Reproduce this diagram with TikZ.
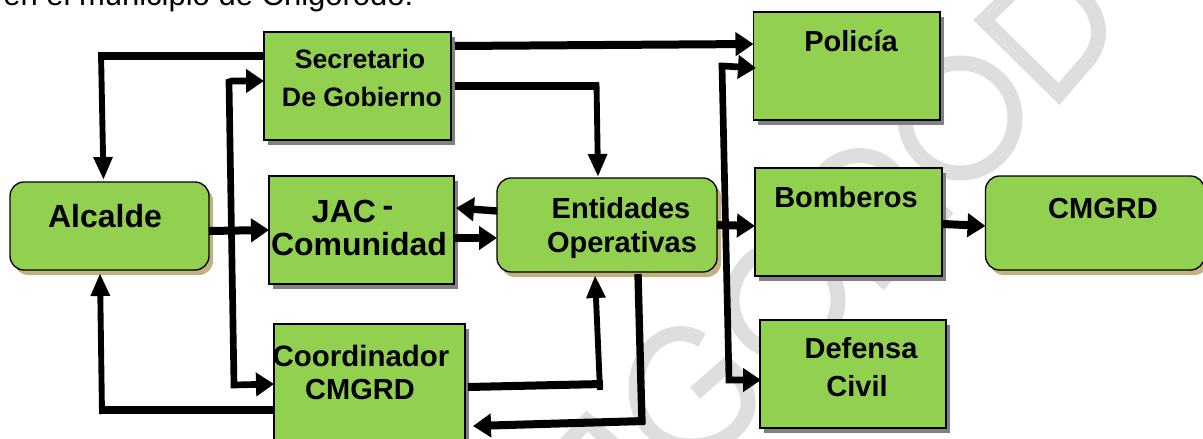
\documentclass[tikz,border=0pt]{standalone}
\usepackage{fontspec}
\setmainfont{Liberation Sans}
\usetikzlibrary{arrows.meta,shadows,calc}
\definecolor{boxgreen}{HTML}{92D050}
\definecolor{shadowgray}{HTML}{808080}
\definecolor{shadowtan}{HTML}{C4B183}
\definecolor{wmark}{HTML}{DEDEDE}
\tikzset{
  x=0.75pt,y=-0.75pt,
  dims/.style 2 args={minimum width=#1*0.75pt,minimum height=#2*0.75pt},
  plainbox/.style={draw=black,line width=1pt,fill=boxgreen,inner sep=0pt,outer sep=0pt,
    drop shadow={shadow xshift=3pt,shadow yshift=-3.75pt,fill=shadowgray,opacity=1}},
  roundbox/.style={draw=black,line width=1pt,fill=boxgreen,inner sep=0pt,outer sep=0pt,rounded corners=10.5pt,
    drop shadow={shadow xshift=3pt,shadow yshift=-3.75pt,fill=shadowtan,opacity=1}},
  lbl/.style={anchor=base,inner sep=0pt,font=\fontsize{#1}{#1}\selectfont\bfseries},
  lbl/.default=21.75,
  watermark/.style={draw=wmark,line width=11.25pt,line join=miter},
  wide/.style={draw=black,line width=6pt},
  mid/.style={draw=black,line width=4.4pt},
  spine/.style={draw=black,line width=5pt},
  hhead/.style={-{Triangle[width=17.25pt,length=13.5pt]}},
  vhead/.style={-{Triangle[width=13.5pt,length=17.25pt]}},
  bothhead/.style={{Triangle[width=17.25pt,length=13.5pt]}-{Triangle[width=17.25pt,length=13.5pt]}},
}
\begin{document}
\begin{tikzpicture}
\useasboundingbox (0,0) rectangle (1203,439);
\clip (0,0) rectangle (1203,439);
% watermark
\draw[watermark] (1015,-10) -- (984,20) -- (1059,94) -- (1083,66) .. controls (1101,48) and (1108,20) .. (1078,-8);
\draw[watermark] (960,118) circle [radius=55];
\draw[watermark] (818,180) .. controls (835,150) and (880,145) .. (900,180);
\draw[watermark] (878,285) -- (948,208);
\draw[watermark] (785,300) circle [radius=53];
\draw[watermark] (702,340) .. controls (668,320) and (636,350) .. (636,388) .. controls (636,425) and (660,446) .. (690,446) .. controls (730,446) and (750,420) .. (748,400) .. controls (747,385) and (738,375) .. (727,365) -- (695,393);
\draw[watermark] (565,445) -- (587,421) -- (625,455);
% top text
\node[anchor=base west,inner sep=0pt,font=\fontsize{23.25}{23.25}\selectfont] (intro) at (3,6) {en el municipio de Chigorodó:};
% boxes
\node[plainbox,dims={187}{108}] (sec) at (357.5,86) {};
\node[plainbox,dims={185}{108}] (jac) at (361.5,230) {};
\node[plainbox,dims={191}{146}] (coo) at (369.5,397) {};
\node[roundbox,dims={199}{88}] (alc) at (109.5,226) {};
\node[roundbox,dims={220}{94}] (ent) at (607,225) {};
\node[plainbox,dims={186.5}{108}] (pol) at (846.75,66) {};
\node[plainbox,dims={187}{108}] (bom) at (848.5,222) {};
\node[plainbox,dims={186}{108}] (def) at (853,374) {};
\node[roundbox,dims={219}{94}] (cmg) at (1095,223) {};
% labels
\node[lbl=24] (talc) at (105,227) {Alcalde};
\node[lbl=20] (tsec1) at (360,68) {Secretario};
\node[lbl=20] (tsec2) at (362,106) {De Gobierno};
\node[lbl=24] (tjac1) at (344,222) {JAC};
\node[lbl=24] (tjac2) at (388,216) {-};
\node[lbl=24] (tjac3) at (359,255) {Comunidad};
\node[lbl=22.1] (tcoo1) at (361,366) {Coordinador};
\node[lbl] (tcoo2) at (360,399) {CMGRD};
\node[lbl] (tent1) at (621,218) {Entidades};
\node[lbl] (tent2) at (622,252) {Operativas};
\node[lbl] (tpol) at (851,51) {Policía};
\node[lbl] (tbom) at (846,207) {Bomberos};
\node[lbl] (tcmg) at (1103,218) {CMGRD};
\node[lbl] (tdef1) at (861,358) {Defensa};
\node[lbl] (tdef2) at (857,396) {Civil};
% connectors
\draw[wide] (sec.west |- 0,56) -- (98,56);
\draw[mid,vhead] (101,53) -- (103.5,180);
\draw[wide] (coo.west |- 0,410) -- (99,410);
\draw[mid,vhead] (102,414) -- (100,273);
\draw[spine,bothhead] (sec.west |- 0,81) -- (232,81) -- (229,82) -- (234,385) -- (coo.west |- 0,384);
\draw[wide,hhead] (alc.east |- 0,231) -- (jac.west |- 0,230);
\draw[draw=black,line width=5.5pt,hhead] (ent.west |- 0,211) -- (456,208);
\draw[wide,hhead] (455,238) -- (ent.west |- 0,238);
\draw[wide,hhead] (455,46) -- (pol.west |- 0,44);
\draw[wide] (455,86) -- (599,86);
\draw[mid,vhead] (596.5,83) -- (598,177);
\draw[wide] (468,387) -- (603,384);
\draw[mid,vhead] (600,390) -- (595,275);
\draw[draw=black,line width=5.5pt] (638,274) -- (642,424);
\draw[draw=black,line width=6pt,hhead] (645,421) -- (473,426);
\draw[spine,bothhead] (756,68) -- (723,66) -- (722,66) -- (729,380) -- (761,380);
\draw[wide,hhead] (717,225) -- (bom.west |- 0,226);
\draw[wide,hhead] (943,224) -- (cmg.west |- 0,226);
\end{tikzpicture}
\end{document}
